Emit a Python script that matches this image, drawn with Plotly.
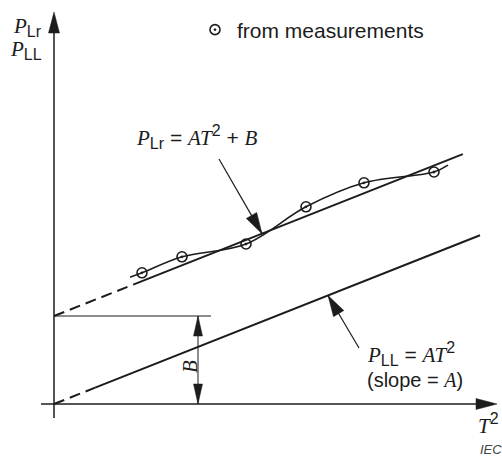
import math
import plotly.graph_objects as go

# ---- data (arbitrary units: x = T^2, y = P) ----
T2_meas = [2.2, 3.2, 4.8, 6.3, 7.75, 9.5]
P_meas = [3.28, 3.68, 4.0, 4.93, 5.53, 5.8]
curve_T2 = [1.9, 2.2, 3.2, 4.8, 6.3, 7.75, 9.5, 9.85]
curve_P = [3.17, 3.28, 3.68, 4.0, 4.93, 5.53, 5.8, 5.97]
A = 0.396          # slope
B = 2.2            # offset
upper_T2 = [0.0, 1.98, 10.22]   # dashed part, then solid part
lower_T2 = [0.0, 1.03, 10.65]

K = 40.0  # px per unit (equal scale on both axes)
W, H = 502, 459
OX, OY = 54, 404  # origin in px

def X(px):
    return (px - OX) / K

def Y(py):
    return (OY - py) / K

INK = "#1c1c1c"
SANS = "Liberation Sans"
SERIF = "Liberation Serif"

fig = go.Figure()

def seg(x0, y0, x1, y1, width, dash="solid"):
    fig.add_shape(type="line", x0=x0, y0=y0, x1=x1, y1=y1, xref="x", yref="y",
                  line=dict(color=INK, width=width, dash=dash))

def head(tip, tail, length=20, half=5.5):
    dx, dy = tip[0] - tail[0], tip[1] - tail[1]
    n = math.hypot(dx, dy)
    ux, uy = dx / n, dy / n
    L, Hh = length / K, half / K
    bx, by = tip[0] - ux * L, tip[1] - uy * L
    p1 = (bx - uy * Hh, by + ux * Hh)
    p2 = (bx + uy * Hh, by - ux * Hh)
    path = f"M{tip[0]},{tip[1]} L{p1[0]},{p1[1]} L{p2[0]},{p2[1]} Z"
    fig.add_shape(type="path", path=path, xref="x", yref="y",
                  fillcolor=INK, line=dict(color=INK, width=0.5))

# axes
seg(X(54), Y(418), X(54), Y(30), 1.5)
head((X(54), Y(12)), (X(54), Y(418)), length=21, half=5.5)
seg(X(41), Y(404), X(480), Y(404), 1.5)
head((X(497), Y(404)), (X(41), Y(404)), length=21, half=5.5)

# P_Lr = A T^2 + B  (dashed then solid)
fig.add_trace(go.Scatter(x=upper_T2[:2], y=[A * t + B for t in upper_T2[:2]], mode="lines",
                         line=dict(color=INK, width=2, dash="11px,6px"),
                         showlegend=False, hoverinfo="skip"))
fig.add_trace(go.Scatter(x=upper_T2[1:], y=[A * t + B for t in upper_T2[1:]], mode="lines",
                         line=dict(color=INK, width=2), showlegend=False, hoverinfo="skip"))
# P_LL = A T^2
fig.add_trace(go.Scatter(x=lower_T2[:2], y=[A * t for t in lower_T2[:2]], mode="lines",
                         line=dict(color=INK, width=2, dash="11px,6px"),
                         showlegend=False, hoverinfo="skip"))
fig.add_trace(go.Scatter(x=lower_T2[1:], y=[A * t for t in lower_T2[1:]], mode="lines",
                         line=dict(color=INK, width=2), showlegend=False, hoverinfo="skip"))

# smooth curve through measurements
fig.add_trace(go.Scatter(x=curve_T2, y=curve_P, mode="lines",
                         line=dict(color=INK, width=1.6, shape="spline", smoothing=1.0),
                         showlegend=False, hoverinfo="skip"))
# measurement points
fig.add_trace(go.Scatter(x=T2_meas, y=P_meas, mode="markers", name="from measurements",
                         marker=dict(symbol="circle-open-dot", size=10, color=INK,
                                     line=dict(width=1.6, color=INK)),
                         showlegend=True, hoverinfo="skip"))

# B dimension
seg(0, B, X(211), B, 1)
xb = X(198)
seg(xb, 0, xb, B, 1)
head((xb, B), (xb, 0), length=20, half=4.5)
head((xb, 0), (xb, B), length=20, half=4.5)

# pointer arrows
tip_u = (X(262), A * X(262) + B)
tail_u = (X(219), Y(159))
seg(tail_u[0], tail_u[1], tip_u[0], tip_u[1], 1.2)
head(tip_u, tail_u, length=21, half=6)

tip_l = (X(328), A * X(328))
tail_l = (X(359), Y(348))
seg(tail_l[0], tail_l[1], tip_l[0], tip_l[1], 1.2)
head(tip_l, tail_l, length=21, half=6)

def ann(text, px, py, xanchor="center", size=20, color=INK, family=SANS, angle=0):
    fig.add_annotation(text=text, x=X(px), y=Y(py), xref="x", yref="y",
                       xanchor=xanchor, yanchor="middle", showarrow=False,
                       textangle=angle, font=dict(family=family, size=size, color=color))

def it(s):
    return f'<span style="font-family:{SERIF}"><i>{s}</i></span>'

def sub(s, px=16):
    return f'<sub><span style="font-size:{px}px">{s}</span></sub>'

def sup(s, px=16):
    return f'<sup><span style="font-size:{px}px">{s}</span></sup>'

ann(f"{it('P')}{sub('Lr')}", 44, 27, xanchor="right", size=21)
ann(f"{it('P')}{sub('LL')}", 44, 50, xanchor="right", size=21)
ann(f"{it('P')}{sub('Lr')} = {it('AT')}{sup('2')} + {it('B')}", 197, 137, size=21)
ann(f"{it('P')}{sub('LL')} = {it('AT')}{sup('2')}", 365, 354, xanchor="left", size=21)
ann(f"(slope = {it('A')})", 365, 380, xanchor="left", size=20)
ann(f"{it('T')}{sup('2')}", 476, 424, xanchor="left", size=21)
ann("<i>IEC</i>", 478, 449, xanchor="left", size=13, color="#444")
ann(it('B'), 190, 367, size=21, angle=-90)

fig.update_layout(
    width=W, height=H,
    margin=dict(l=0, r=0, t=0, b=0),
    paper_bgcolor="white", plot_bgcolor="white",
    xaxis=dict(range=[X(0), X(W)], visible=False, fixedrange=True),
    yaxis=dict(range=[Y(H), Y(0)], visible=False, fixedrange=True),
    legend=dict(x=193 / W, y=1 - 30 / H, xanchor="left", yanchor="middle",
                bgcolor="rgba(0,0,0,0)", font=dict(family=SANS, size=21, color=INK),
                borderwidth=0, itemwidth=34),
    showlegend=True,
)

fig.write_html("out.html", config={"displayModeBar": False},
               post_script="document.body.style.margin='0px';document.body.style.overflow='hidden';")
